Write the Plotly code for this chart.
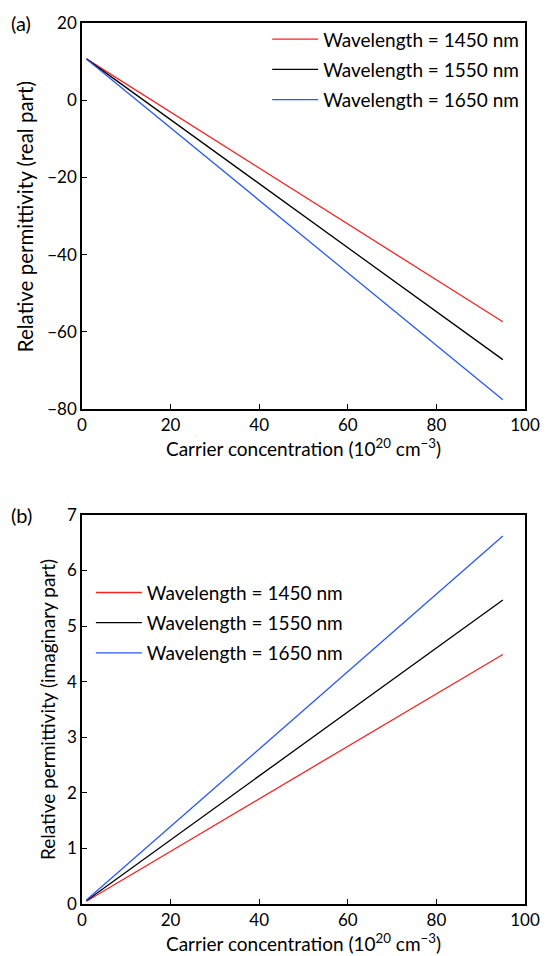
import plotly.graph_objects as go

# Data
conc = [1, 95]  # carrier concentration (1e20 cm^-3)
wavelengths = ["1450", "1550", "1650"]
real_part = {
    "1450": [10.7, -57.4],
    "1550": [10.7, -67.2],
    "1650": [10.7, -77.6],
}
imag_part = {
    "1450": [0.05, 4.49],
    "1550": [0.06, 5.47],
    "1650": [0.07, 6.62],
}
colors = {"1450": "#ff2020", "1550": "#000000", "1650": "#2757ff"}

FONT = "Lato"
TXT = 19
fig = go.Figure()

for wl in wavelengths:
    fig.add_trace(go.Scatter(
        x=conc, y=real_part[wl], mode="lines",
        line=dict(color=colors[wl], width=1.3),
        name=f"Wavelength = {wl} nm", legendgroup="a" + wl,
        xaxis="x", yaxis="y", legend="legend",
    ))
for wl in wavelengths:
    fig.add_trace(go.Scatter(
        x=conc, y=imag_part[wl], mode="lines",
        line=dict(color=colors[wl], width=1.3),
        name=f"Wavelength = {wl} nm", legendgroup="b" + wl,
        xaxis="x2", yaxis="y2", legend="legend2",
    ))

axis_common = dict(
    showline=True, linecolor="black", linewidth=1.5, mirror=True,
    ticks="inside", ticklen=5, tickwidth=1.2, tickcolor="black",
    showgrid=False, zeroline=False,
    tickfont=dict(family=FONT, size=17, color="black"),
)
xtitle = "Carrier concentration (10<sup>20</sup> cm<sup>\u22123</sup>)"

fig.update_layout(
    width=552, height=956,
    margin=dict(l=82, r=16, t=15, b=51),
    paper_bgcolor="white", plot_bgcolor="white",
    font=dict(family=FONT, size=TXT, color="black"),
    xaxis=dict(domain=[0, 1], range=[0, 100], dtick=20, anchor="y",
               title=dict(text=xtitle, font=dict(family=FONT, size=TXT), standoff=1),
               **axis_common),
    yaxis=dict(domain=[0.5618, 1], range=[-80, 20], dtick=20, anchor="x",
               **axis_common),
    xaxis2=dict(domain=[0, 1], range=[0, 100], dtick=20, anchor="y2",
                title=dict(text=xtitle, font=dict(family=FONT, size=TXT), standoff=1),
                **axis_common),
    yaxis2=dict(domain=[0, 0.4416], range=[0, 7], dtick=1, anchor="x2",
                title=dict(text="Relative permittivity (imaginary part)", font=dict(family=FONT, size=TXT), standoff=6),
                **axis_common),
    legend=dict(x=0.418, y=1.003, xanchor="left", yanchor="top",
                bgcolor="rgba(0,0,0,0)", font=dict(family=FONT, size=TXT),
                itemwidth=46, tracegroupgap=2.5, traceorder="grouped"),
    legend2=dict(x=0.02, y=0.375, xanchor="left", yanchor="top",
                 bgcolor="rgba(0,0,0,0)", font=dict(family=FONT, size=TXT),
                 itemwidth=46, tracegroupgap=2.5, traceorder="grouped"),
    annotations=[
        dict(text="Relative permittivity (real part)", xref="paper", yref="paper",
             x=-0.130, y=0.78, xanchor="center", yanchor="middle", textangle=-90,
             showarrow=False, font=dict(family=FONT, size=20.5)),
        dict(text="(a)", xref="paper", yref="paper", x=-0.165, y=1.0,
             xanchor="left", yanchor="middle", showarrow=False,
             font=dict(family=FONT, size=20)),
        dict(text="(b)", xref="paper", yref="paper", x=-0.165, y=0.4416,
             xanchor="left", yanchor="middle", showarrow=False,
             font=dict(family=FONT, size=20)),
    ],
)

fig.write_html("out.html")
